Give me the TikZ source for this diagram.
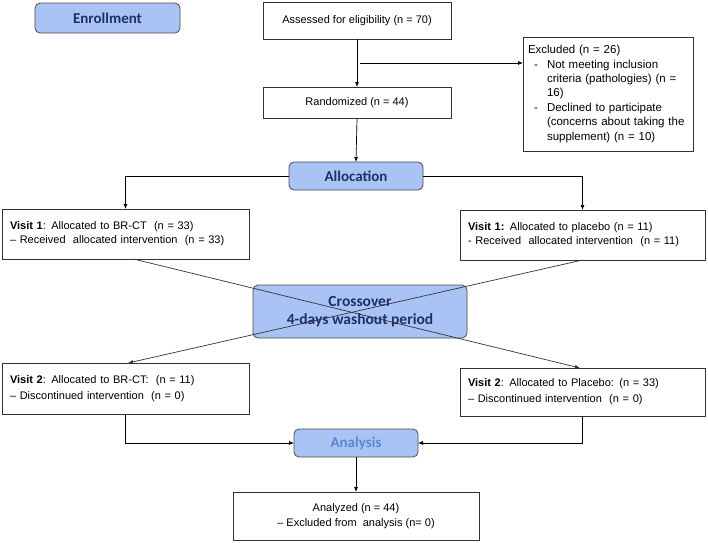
\documentclass[tikz,border=0pt]{standalone}
\usepackage{fontspec}
\setmainfont{Liberation Sans}
\newfontfamily\hdr{Carlito}
\usetikzlibrary{arrows.meta,calc}
\definecolor{hfill}{HTML}{A9C4F4}
\definecolor{hdraw}{HTML}{4A4A4A}
\definecolor{navy}{HTML}{1F2F6B}
\definecolor{lblue}{HTML}{5B86D0}
\definecolor{lgray}{HTML}{333333}
\begin{document}
\begin{tikzpicture}[x=1pt,y=-1pt,
  box/.style={draw=lgray,line width=0.7pt,fill=white,inner sep=0pt,outer sep=0pt,font=\fontsize{11}{14}\selectfont},
  hbox/.style={draw=hdraw,line width=0.8pt,fill=hfill,rounded corners=5pt,inner sep=0pt,outer sep=0pt,font=\hdr\bfseries\fontsize{15}{17}\selectfont,text=navy},
  arr/.style={draw=black,line width=0.7pt,-{Latex[length=5pt,width=4pt]}},
  xline/.style={draw=lgray,line width=0.7pt,-{Latex[length=5pt,width=4pt]}}]
\useasboundingbox (0,0) rectangle (708,542);
\node[hbox,minimum width=145pt,minimum height=30pt] (enroll) at (107.5,18) {Enrollment};
\node[box,minimum width=188pt,minimum height=37pt] (assess) at (357,20.5) {Assessed for eligibility (n = 70)};
\node[box,minimum width=188pt,minimum height=31pt] (rand) at (357,102.5) {Randomized (n = 44)};
\node[box,minimum width=170pt,minimum height=114pt,align=left,text width=160pt,font=\fontsize{11.5}{14.4}\selectfont] (excl) at (608,94) {%
Excluded (n = 26)\\
\makebox[19pt][l]{\hspace{6pt}-}Not meeting inclusion\\
\hspace*{19pt}criteria (pathologies) (n =\\
\hspace*{19pt}16)\\
\makebox[19pt][l]{\hspace{6pt}-}Declined to participate\\
\hspace*{19pt}(concerns about taking the\\
\hspace*{19pt}supplement) (n = 10)};
\node[hbox,minimum width=134pt,minimum height=28pt] (alloc) at (356,176) {Allocation};
\node[box,minimum width=247pt,minimum height=50pt,align=left,text width=231pt] (v1l) at (125.5,234) {%
\textbf{Visit 1}: Allocated to BR-CT~ (n = 33)\\
– Received~ allocated intervention~ (n = 33)};
\node[box,minimum width=245pt,minimum height=50pt,align=left,text width=229pt] (v1r) at (582.5,235) {%
\textbf{Visit 1:} Allocated to placebo (n = 11)\\
- Received~ allocated intervention~ (n = 11)};
\node[hbox,minimum width=214pt,minimum height=53pt,align=center,font=\hdr\bfseries\fontsize{15.5}{18}\selectfont] (cross) at (360,311.5) {Crossover\\4-days washout period};
\node[box,minimum width=247pt,minimum height=51pt,align=left,text width=231pt,font=\fontsize{11}{16.5}\selectfont] (v2l) at (125.5,388.5) {%
\textbf{Visit 2}: Allocated to BR-CT:~ (n = 11)\\
– Discontinued intervention~ (n = 0)};
\node[box,minimum width=245pt,minimum height=48pt,align=left,text width=229pt,font=\fontsize{11}{16}\selectfont] (v2r) at (582.5,392) {%
\textbf{Visit 2}: Allocated to Placebo: (n = 33)\\
– Discontinued intervention~ (n = 0)};
\node[hbox,minimum width=124pt,minimum height=28pt,text=lblue] (anal) at (356,443) {Analysis};
\node[box,minimum width=246pt,minimum height=48pt,align=center,font=\fontsize{11}{15}\selectfont] (analyzed) at (356,516) {%
Analyzed (n = 44)\\
– Excluded from~ analysis (n= 0)};
% connectors
\draw[arr] (assess.south) -- (rand.north);
\coordinate (ex) at ($(assess.south)!0.5!(rand.north)$);
\draw[arr] ([xshift=3pt]ex) -- (ex -| excl.west);
\draw[arr] (rand.south) -- (alloc.north);
\draw[arr] (alloc.west) -| (v1l.north);
\draw[arr] (alloc.east) -| (v1r.north);
\draw[xline] ([xshift=8pt]v1l.south) -- ([xshift=-2.5pt]v2r.north);
\draw[xline] (v1r.south) -- ([xshift=2.5pt]v2l.north);
\draw[arr] (v2l.south) |- (anal.west);
\draw[arr] (v2r.south) |- (anal.east);
\draw[arr] (anal.south) -- (analyzed.north);
\end{tikzpicture}
\end{document}
